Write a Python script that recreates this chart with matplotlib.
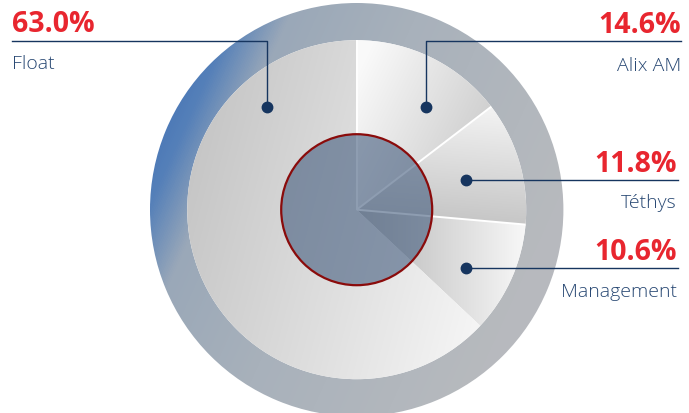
import numpy as np
import matplotlib
matplotlib.use("Agg")
import matplotlib.pyplot as plt
from matplotlib.patches import Wedge, Circle
from matplotlib.colors import LinearSegmentedColormap

# data
labels = ["Alix AM", "Téthys", "Management", "Float"]   # clockwise from 12 o'clock
shares = [14.6, 11.8, 10.6, 63.0]
pct_text = ["14.6%", "11.8%", "10.6%", "63.0%"]

W, H = 689, 414
cx, cy = 356.7, 210.7
r_out, r_pie, r_mid = 206.7, 169.5, 75.5

RED = "#e8262f"
NAVY = "#16355f"
TXT = "#284873"

fig = plt.figure(figsize=(W / 100, H / 100), dpi=100)
ax = fig.add_axes([0, 0, 1, 1])
ax.axis("off")

xs = np.arange(W) + 0.5
ys = np.arange(H) + 0.5
XX, YY = np.meshgrid(xs, ys)


def gradient_fill(patch, p0, p1, colors):
    # linear gradient from p0 to p1 (pixel coords), clipped by patch
    d = np.array(p1, float) - np.array(p0, float)
    t = ((XX - p0[0]) * d[0] + (YY - p0[1]) * d[1]) / (d @ d)
    t = np.clip(t, 0, 1)
    cmap = LinearSegmentedColormap.from_list("g", colors)
    ax.add_patch(patch)
    im = ax.imshow(t, cmap=cmap, vmin=0, vmax=1, extent=(0, W, H, 0),
                   origin="upper", interpolation="bilinear", zorder=patch.get_zorder())
    im.set_clip_path(patch)


# outer ring
ring = Wedge((cx, cy), r_out, 0, 360, width=r_out - r_pie, facecolor="none",
             edgecolor="none", zorder=1)
gradient_fill(ring, (143, 120), (143 + 0.91 * 414, 120 + 0.41 * 414),
              [(0, "#4372b4"), (0.1, "#5580b9"), (0.22, "#9aa8b8"),
               (0.5, "#a8b1bb"), (1, "#b7babe")])

# slice gradients (start point, end point, colours)
grads = {
    "Alix AM": ((362, 60), (492, 125), ["#fafafa", "#cecece"]),
    "Téthys": ((480, 105), (470, 228), ["#f4f4f4", "#c4c4c4"]),
    "Management": ((357, 260), (525, 260), ["#b5b5b5", "#f7f7f7"]),
    "Float": ((187, 180), (490, 260), ["#c6c6c6", "#f4f4f4"]),
}

a0 = -90.0
bounds = [a0]
for lab, s in zip(labels, shares):
    a1 = a0 + 360 * s / sum(shares)
    w = Wedge((cx, cy), r_pie, a0, a1, facecolor="none", edgecolor="none", zorder=2)
    p0, p1, cols = grads[lab]
    gradient_fill(w, p0, p1, cols)
    a0 = a1
    bounds.append(a1)

# white separators between the small slices
for a in bounds[:3]:
    th = np.deg2rad(a)
    ax.plot([cx, cx + r_pie * np.cos(th)], [cy, cy + r_pie * np.sin(th)],
            color="white", lw=1.4, zorder=3, solid_capstyle="butt")

# centre disc
ax.add_patch(Circle((cx, cy), r_mid, facecolor=(67 / 255, 92 / 255, 126 / 255),
                    alpha=0.6, edgecolor="none", zorder=4))
ax.add_patch(Circle((cx, cy), r_mid, facecolor="none", edgecolor="#8a0b0b",
                    lw=1.6, zorder=5))

# leader lines: anchor dot, path, text side
leaders = {
    "Float": dict(path=[(267, 108), (267, 42.3), (12, 42.3)], ha="left", x=12,
                  y_pct=32.3, y_lab=69),
    "Alix AM": dict(path=[(426, 108), (426, 42.3), (681, 42.3)], ha="right", x=681,
                    y_pct=33, y_lab=71),
    "Téthys": dict(path=[(465.7, 180.7), (678, 180.7)], ha="right", x=677,
                   y_pct=171.7, y_lab=208),
    "Management": dict(path=[(465.7, 269.3), (678, 269.3)], ha="right", x=677,
                       y_pct=260, y_lab=296.7),
}

for lab, pt in zip(labels, pct_text):
    L = leaders[lab]
    px, py = zip(*L["path"])
    ax.plot(px, py, color=NAVY, lw=1.0, zorder=6)
    ax.plot(px[0], py[0], "o", color=NAVY, ms=7.5, zorder=7)
    ax.text(L["x"], L["y_pct"], pt, ha=L["ha"], va="baseline", color=RED,
            fontsize=20.5, fontweight="bold", family=["Open Sans", "DejaVu Sans"], zorder=8)
    ax.text(L["x"], L["y_lab"], lab, ha=L["ha"], va="baseline", color=TXT,
            fontsize=14, fontweight="light", family=["Open Sans", "DejaVu Sans"], zorder=8)

ax.set_xlim(0, W)
ax.set_ylim(H, 0)
fig.savefig("out.png", dpi=100)
